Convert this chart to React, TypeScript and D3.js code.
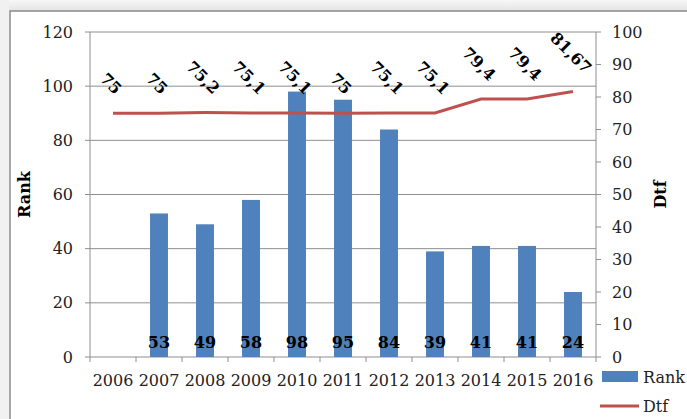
import React from 'react';
import * as d3 from 'd3';

const years = ['2006', '2007', '2008', '2009', '2010', '2011', '2012', '2013', '2014', '2015', '2016'];
const rank: (number | null)[] = [null, 53, 49, 58, 98, 95, 84, 39, 41, 41, 24];
const dtf = [75, 75, 75.2, 75.1, 75.1, 75, 75.1, 75.1, 79.4, 79.4, 81.67];
const rankTicks = [0, 20, 40, 60, 80, 100, 120];
const dtfTicks = [0, 10, 20, 30, 40, 50, 60, 70, 80, 90, 100];

const WIDTH = 687;
const HEIGHT = 419;
const LEFT = 90;
const RIGHT = 596;
const TOP = 32;
const BOTTOM = 357;

const FONT = '"DejaVu Serif", Georgia, serif';
const BLUE = '#4F81BD';
const RED = '#C0504D';
const GRID = '#8e8e8e';

const fmt = (v: number) => String(v).replace('.', ',');
// rough text width for bold 16px labels
const textWidth = (s: string) => s.split('').reduce((a, c) => a + (c === ',' ? 5 : 10.5), 0);

const App = () => {
  const x = d3.scaleBand<string>().domain(years).range([LEFT, RIGHT]);
  const yRank = d3.scaleLinear().domain([0, 120]).range([BOTTOM, TOP]);
  const yDtf = d3.scaleLinear().domain([0, 100]).range([BOTTOM, TOP]);
  const barW = x.bandwidth() * 0.39;
  const cx = (d: string) => (x(d) ?? 0) + x.bandwidth() / 2;

  const line = d3.line<number>()
    .x((_, i) => cx(years[i]))
    .y(d => yDtf(d));

  return (
    <svg
      width={WIDTH}
      height={HEIGHT}
      style={{ position: 'absolute', left: 0, top: 0, background: '#fff' }}
      fontFamily={FONT}
    >
      <defs>
        <linearGradient id="shadow" x1="0" y1="0" x2="0" y2="1">
          <stop offset="0" stopColor="#f7f7f7" />
          <stop offset="1" stopColor="#e4e4e4" />
        </linearGradient>
      </defs>
      <rect x={0} y={0} width={WIDTH} height={11} fill="url(#shadow)" />
      <rect x={0} y={0} width={9} height={HEIGHT} fill="#f1f1f1" />
      <rect x={10} y={11} width={WIDTH} height={HEIGHT} fill="#fff" stroke="#8a8a8a" strokeWidth={1.5} />

      {/* grid */}
      {rankTicks.map(t => (
        <line key={t} x1={LEFT} x2={RIGHT} y1={yRank(t)} y2={yRank(t)} stroke={GRID} strokeWidth={1} />
      ))}
      <line x1={LEFT} x2={LEFT} y1={TOP} y2={BOTTOM} stroke={GRID} />
      <line x1={RIGHT} x2={RIGHT} y1={TOP} y2={BOTTOM} stroke={GRID} />

      {/* left axis */}
      {rankTicks.map(t => (
        <g key={t}>
          <line x1={LEFT - 5} x2={LEFT} y1={yRank(t)} y2={yRank(t)} stroke={GRID} />
          <text x={73} y={yRank(t)} dy="0.35em" textAnchor="end" fontSize={16} fill="#222">{t}</text>
        </g>
      ))}
      {/* right axis */}
      {dtfTicks.map(t => (
        <g key={t}>
          <line x1={RIGHT} x2={RIGHT + 5} y1={yDtf(t)} y2={yDtf(t)} stroke={GRID} />
          <text x={612} y={yDtf(t)} dy="0.35em" textAnchor="start" fontSize={16} fill="#222">{t}</text>
        </g>
      ))}
      {/* x axis */}
      {years.map(d => (
        <line key={d} x1={x(d)} x2={x(d)} y1={BOTTOM} y2={BOTTOM + 5} stroke={GRID} />
      ))}
      <line x1={RIGHT} x2={RIGHT} y1={BOTTOM} y2={BOTTOM + 5} stroke={GRID} />
      {years.map(d => (
        <text key={d} x={cx(d)} y={386} textAnchor="middle" fontSize={16} fill="#222">{d}</text>
      ))}

      {/* bars */}
      {years.map((d, i) => rank[i] == null ? null : (
        <rect key={d} x={cx(d) - barW / 2} y={yRank(rank[i] as number)} width={barW}
          height={BOTTOM - yRank(rank[i] as number)} fill={BLUE} />
      ))}
      {years.map((d, i) => rank[i] == null ? null : (
        <text key={d} x={cx(d)} y={348} textAnchor="middle" fontSize={16} fontWeight="bold" fill="#000">{rank[i]}</text>
      ))}

      {/* Dtf line */}
      <path d={line(dtf) ?? ''} fill="none" stroke={RED} strokeWidth={3} />
      {dtf.map((v, i) => {
        const s = fmt(v);
        const h = (textWidth(s) + 12) * 0.707;
        const px = cx(years[i]) - 2;
        const py = yDtf(v) - 18 - h / 2;
        return (
          <text key={i} x={px} y={py} dy="0.35em" textAnchor="middle" fontSize={16} fontWeight="bold"
            fill="#000" transform={`rotate(45 ${px} ${py})`}>{s}</text>
        );
      })}

      {/* axis titles */}
      <text transform={`translate(30 ${(TOP + BOTTOM) / 2}) rotate(-90)`} textAnchor="middle" fontSize={16} fontWeight="bold">Rank</text>
      <text transform={`translate(666 ${(TOP + BOTTOM) / 2}) rotate(-90)`} textAnchor="middle" fontSize={16} fontWeight="bold">Dtf</text>

      {/* legend */}
      <rect x={602} y={371} width={36} height={11} fill={BLUE} />
      <text x={643} y={383} fontSize={16} fill="#222">Rank</text>
      <line x1={600} x2={639} y1={406} y2={406} stroke={RED} strokeWidth={3} />
      <text x={643} y={412} fontSize={16} fill="#222">Dtf</text>
    </svg>
  );
};

export default App;
